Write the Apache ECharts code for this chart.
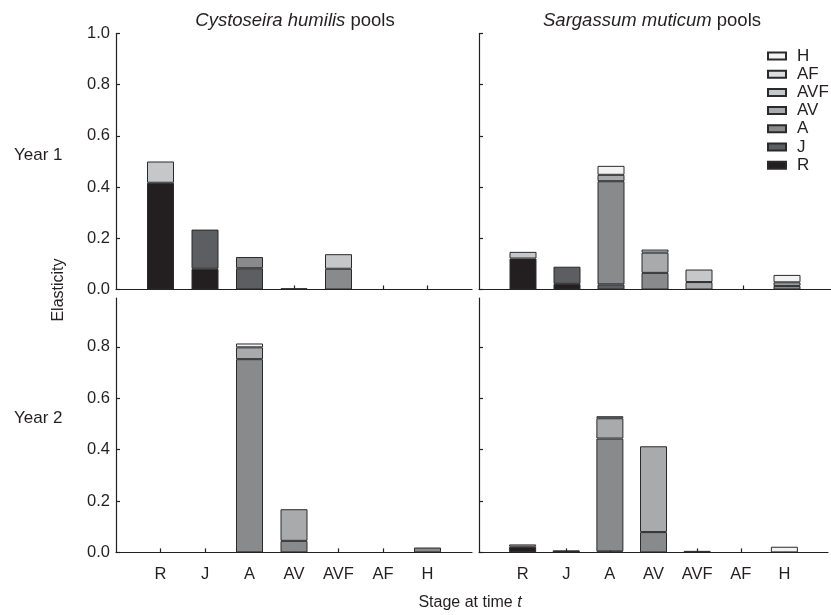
<!DOCTYPE html>
<html>
<head>
<meta charset="utf-8">
<script src="https://cdn.jsdelivr.net/npm/echarts@6/dist/echarts.min.js"></script>
<style>
html,body{margin:0;padding:0;background:#fff;}
#chart{width:831px;height:615px;}
</style>
</head>
<body>
<div id="chart"></div>
<script>
// Stages (series) and x tick labels (stage at time t)
const stages = ['R', 'J', 'A', 'AV', 'AVF', 'AF', 'H'];
const xTicks = ['', 'R', 'J', 'A', 'AV', 'AVF', 'AF', 'H', ''];
const legendOrder = ['H', 'AF', 'AVF', 'AV', 'A', 'J', 'R'];
const yTicksTop = [0, 0.2, 0.4, 0.6, 0.8, 1.0];
const yTicksBottom = [0, 0.2, 0.4, 0.6, 0.8];

// Cystoseira humilis pools, Year 1 (values per stage at time t: R, J, A, AV, AVF, AF, H)
const cy1_R   = [0.417, 0.081, 0,     0,     0,     0, 0];
const cy1_J   = [0,     0.153, 0.083, 0,     0,     0, 0];
const cy1_A   = [0,     0,     0.044, 0,     0.081, 0, 0];
const cy1_AV  = [0,     0,     0,     0.005, 0,     0, 0];
const cy1_AVF = [0.083, 0,     0,     0,     0.057, 0, 0];
const cy1_AF  = [0,     0,     0,     0,     0,     0, 0];
const cy1_H   = [0,     0,     0,     0,     0,     0, 0];

// Sargassum muticum pools, Year 1
const sm1_R   = [0.121, 0.022, 0,     0,     0,     0, 0];
const sm1_J   = [0,     0.067, 0.020, 0,     0,     0, 0];
const sm1_A   = [0,     0,     0.403, 0.065, 0,     0, 0.014];
const sm1_AV  = [0,     0,     0.025, 0.079, 0.029, 0, 0.014];
const sm1_AVF = [0.026, 0,     0,     0.012, 0.049, 0, 0];
const sm1_AF  = [0,     0,     0,     0,     0,     0, 0];
const sm1_H   = [0,     0,     0.035, 0,     0,     0, 0.029];

// Cystoseira humilis pools, Year 2
const cy2_R   = [0, 0, 0,     0,     0, 0, 0];
const cy2_J   = [0, 0, 0,     0,     0, 0, 0];
const cy2_A   = [0, 0, 0.752, 0.045, 0, 0, 0.019];
const cy2_AV  = [0, 0, 0.046, 0.123, 0, 0, 0];
const cy2_AVF = [0, 0, 0,     0,     0, 0, 0];
const cy2_AF  = [0, 0, 0,     0,     0, 0, 0];
const cy2_H   = [0, 0, 0.015, 0,     0, 0, 0];

// Sargassum muticum pools, Year 2
const sm2_R   = [0.022, 0.008, 0,     0,     0,     0, 0];
const sm2_J   = [0,     0,     0.004, 0,     0,     0, 0];
const sm2_A   = [0,     0,     0.439, 0.079, 0.006, 0, 0];
const sm2_AV  = [0,     0,     0.079, 0.334, 0,     0, 0];
const sm2_AVF = [0.009, 0,     0,     0,     0,     0, 0];
const sm2_AF  = [0,     0,     0,     0,     0,     0, 0];
const sm2_H   = [0,     0,     0.008, 0,     0,     0, 0.022];

const panels = [
  [cy1_R, cy1_J, cy1_A, cy1_AV, cy1_AVF, cy1_AF, cy1_H],
  [sm1_R, sm1_J, sm1_A, sm1_AV, sm1_AVF, sm1_AF, sm1_H],
  [cy2_R, cy2_J, cy2_A, cy2_AV, cy2_AVF, cy2_AF, cy2_H],
  [sm2_R, sm2_J, sm2_A, sm2_AV, sm2_AVF, sm2_AF, sm2_H]
];

const colors = {
  R: '#231f20', J: '#5d5e61', A: '#898a8c', AV: '#a9aaac',
  AVF: '#c6c7c9', AF: '#dcdddf', H: '#f2f2f2'
};
const ink = '#231f20';
const FONT = '"Liberation Sans", Arial, Helvetica, sans-serif';

const grids = [
  { left: 116, top: 33.5, width: 356, height: 256 },
  { left: 479, top: 33.5, width: 355, height: 256 },
  { left: 116, top: 298, width: 356, height: 254.4 },
  { left: 479, top: 298, width: 355, height: 254.4 }
];

const xAxes = grids.map((g, i) => ({
  type: 'category',
  gridIndex: i,
  data: xTicks,
  boundaryGap: false,
  axisLine: { show: true, lineStyle: { color: ink, width: 1.2 } },
  axisTick: {
    show: true, inside: true, length: 4,
    interval: (idx) => idx > 0 && idx < xTicks.length - 1,
    lineStyle: { color: ink, width: 1.2 }
  },
  axisLabel: {
    show: i >= 2, interval: 0, margin: 14,
    color: ink, fontSize: 16.5, fontFamily: FONT
  },
  splitLine: { show: false }
}));

const yAxes = grids.map((g, i) => {
  const top = i < 2;
  const ticks = top ? yTicksTop : yTicksBottom;
  return {
    type: 'value',
    gridIndex: i,
    min: 0,
    max: top ? 1.0 : 0.99,
    interval: 0.2,
    axisLine: { show: true, lineStyle: { color: ink, width: 1.2 } },
    axisTick: {
      show: true, inside: true, length: 4,
      customValues: ticks,
      lineStyle: { color: ink, width: 1.2 }
    },
    axisLabel: {
      show: i % 2 === 0,
      customValues: ticks,
      formatter: (v) => v.toFixed(1),
      margin: 6, color: ink, fontSize: 16.5, fontFamily: FONT
    },
    splitLine: { show: false }
  };
});

const series = [];
panels.forEach((panel, p) => {
  stages.forEach((s, k) => {
    const vals = panel[k];
    series.push({
      name: s,
      type: 'bar',
      xAxisIndex: p,
      yAxisIndex: p,
      stack: 'panel' + p,
      barWidth: 27,
      data: ['-'].concat(vals.map(v => (v > 0 ? v : '-')), ['-']),
      itemStyle: { color: colors[s], borderColor: '#2a2a2a', borderWidth: 1 },
      emphasis: { disabled: true },
      silent: true,
      animation: false
    });
  });
});

const chart = echarts.init(document.getElementById('chart'), null, { renderer: 'canvas' });
chart.setOption({
  backgroundColor: '#fff',
  animation: false,
  grid: grids,
  xAxis: xAxes,
  yAxis: yAxes,
  legend: {
    data: legendOrder,
    orient: 'vertical',
    left: 767,
    top: 47.5,
    padding: 0,
    itemGap: 1.2,
    itemWidth: 18,
    itemHeight: 7,
    icon: 'rect',
    selectedMode: false,
    textStyle: { color: ink, fontSize: 17, fontFamily: FONT, lineHeight: 17, padding: [0, 0, 0, 6] }
  },
  graphic: [
    {
      type: 'text', x: 295, y: 21,
      style: {
        text: '{i|Cystoseira humilis} pools', align: 'center', verticalAlign: 'middle',
        fill: ink, font: '18.5px ' + FONT,
        rich: { i: { fontStyle: 'italic', fontSize: 18.5, fontFamily: FONT, fill: ink } }
      }
    },
    {
      type: 'text', x: 652, y: 21,
      style: {
        text: '{i|Sargassum muticum} pools', align: 'center', verticalAlign: 'middle',
        fill: ink, font: '18.5px ' + FONT,
        rich: { i: { fontStyle: 'italic', fontSize: 18.5, fontFamily: FONT, fill: ink } }
      }
    },
    {
      type: 'text', x: 14, y: 155,
      style: { text: 'Year 1', align: 'left', verticalAlign: 'middle', fill: ink, font: '17px ' + FONT }
    },
    {
      type: 'text', x: 14, y: 418,
      style: { text: 'Year 2', align: 'left', verticalAlign: 'middle', fill: ink, font: '17px ' + FONT }
    },
    {
      type: 'text', x: 59, y: 290, rotation: Math.PI / 2,
      style: { text: 'Elasticity', align: 'center', verticalAlign: 'middle', fill: ink, font: '16px ' + FONT }
    },
    {
      type: 'text', x: 470, y: 603,
      style: {
        text: 'Stage at time {i|t}', align: 'center', verticalAlign: 'middle',
        fill: ink, font: '16px ' + FONT,
        rich: { i: { fontStyle: 'italic', fontSize: 16, fontFamily: FONT, fill: ink } }
      }
    }
  ],
  series: series
});
</script>
</body>
</html>
